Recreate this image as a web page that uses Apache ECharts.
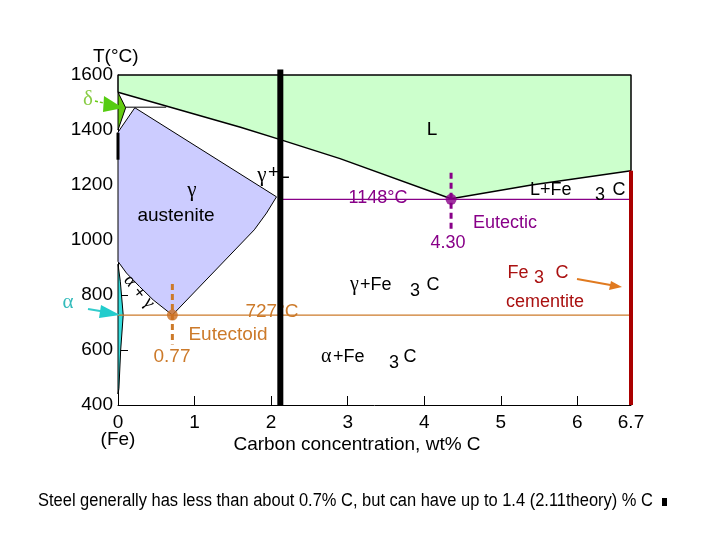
<!DOCTYPE html>
<html>
<head>
<meta charset="utf-8">
<script src="https://cdn.jsdelivr.net/npm/echarts@6/dist/echarts.min.js"></script>
<style>
  html, body { margin: 0; padding: 0; background: #ffffff; }
  #chart { width: 720px; height: 540px; }
</style>
</head>
<body>
<div id="chart"></div>
<script>
// ---- Data (wt% C, temperature °C) ----
const xTickValues = [0, 1, 2, 3, 4, 5, 6, 6.7];
const yTickValues = [400, 600, 800, 1000, 1200, 1400, 1600];

const liquidusLeft = [[0, 1537], [1.6, 1410], [2.12, 1365], [2.9, 1296], [4.35, 1150]];
const liquidusRight = [[4.35, 1150], [5.4, 1200], [6.7, 1252]];
const deltaRegion = [[0, 1537], [0.1, 1481], [0, 1400]];
const austeniteRegion = [[0.22, 1481], [2.07, 1157], [1.94, 1098], [1.78, 1037], [0.71, 727],
                         [0.46, 782], [0.28, 831], [0.11, 880], [0, 922], [0, 1392]];
const alphaRegion = [[0, 912], [0.03, 850], [0.068, 727], [0.035, 600], [0.012, 460], [0, 440]];
const peritecticLine = [[0.1, 1483], [0.63, 1483]];
const eutecticLine = [[2.12, 1148], [6.7, 1148]];
const eutectoidLine = [[0, 727], [6.7, 727]];
const eutecticPoint = [[4.35, 1148]];
const eutectoidPoint = [[0.71, 727]];
const eutecticDash = [[4.35, 1245], [4.35, 1030]];
const eutectoidDash = [[0.71, 840], [0.71, 620]];
const steelLimit = [[2.12, 1620], [2.12, 400]];
const cementiteLine = [[6.7, 1252], [6.7, 400]];
const liquidTop = [[0, 1537], [0, 1600], [6.7, 1600], [6.7, 1252]];
const leftThick = [[0, 1390], [0, 1292]];

const liquidRegion = [[0, 1600], [6.7, 1600]]
  .concat(liquidusRight.slice().reverse())
  .concat(liquidusLeft.slice().reverse().slice(1));

const chart = echarts.init(document.getElementById('chart'), null, { renderer: 'canvas' });

function polySeries(pts, fill, stroke, lw, z) {
  return {
    type: 'custom', z: z, silent: true, clip: false,
    data: pts,
    encode: { x: 0, y: 1 },
    renderItem: function (params, api) {
      if (params.dataIndex !== 0) return null;
      return {
        type: 'polygon',
        shape: { points: pts.map(function (p) { return api.coord(p); }) },
        style: { fill: fill, stroke: stroke, lineWidth: lw }
      };
    }
  };
}
function lineSeries(pts, color, width, z, type) {
  return {
    type: 'line', data: pts, symbol: 'none', silent: true, clip: false, z: z,
    lineStyle: { color: color, width: width, type: type || 'solid' }, animation: false
  };
}

const SANS = "'Liberation Sans', Arial, sans-serif";
const SERIF = "'Liberation Serif', 'Times New Roman', serif";
function txt(x, y, text, size, color, family, align, extra) {
  const o = {
    type: 'text', x: x, y: y, z: 50,
    style: { text: text, fill: color || '#000', font: size + 'px ' + (family || SANS),
             align: align || 'center', verticalAlign: 'middle' }
  };
  return Object.assign(o, extra || {});
}

const graphics = [
  txt(93, 57, 'T(°C)', 19, '#000', SANS, 'left'),
  txt(118, 440, '(Fe)', 19),
  txt(357, 445, 'Carbon concentration, wt% C', 19),
  txt(432, 130, 'L', 19),
  txt(262, 175, 'γ', 21, '#000', SERIF),
  txt(268, 173, '+L', 19, '#000', SANS, 'left'),
  txt(192, 190, 'γ', 21, '#000', SERIF),
  txt(176, 216, 'austenite', 19),
  txt(530, 190, 'L+Fe', 18, '#000', SANS, 'left'),
  txt(600, 195, '3', 18),
  txt(619, 190, 'C', 18),
  txt(350, 285, 'γ', 20, '#000', SERIF, 'left'),
  txt(360, 285, '+Fe', 18, '#000', SANS, 'left'),
  txt(415, 291, '3', 18),
  txt(433, 285, 'C', 18),
  txt(321, 357, 'α', 20, '#000', SERIF, 'left'),
  txt(333, 357, '+Fe', 18, '#000', SANS, 'left'),
  txt(394, 363, '3', 18),
  txt(410, 357, 'C', 18),
  txt(518, 273, 'Fe', 18, '#aa1111'),
  txt(539, 278, '3', 18, '#aa1111'),
  txt(562, 273, 'C', 18, '#aa1111'),
  txt(545, 302, 'cementite', 18, '#aa1111'),
  txt(378, 198, '1148°C', 18, '#880088'),
  txt(505, 223, 'Eutectic', 18, '#880088'),
  txt(448, 243, '4.30', 18, '#880088'),
  txt(272, 312, '727°C', 19, '#cc7a2a'),
  txt(228, 335, 'Eutectoid', 19, '#cc7a2a'),
  txt(172, 357, '0.77', 19, '#cc7a2a'),
  txt(88, 99, 'δ', 21, '#88cc44', SERIF),
  txt(68, 302, 'α', 21, '#33bbbb', SERIF),
  txt(130, 281, 'α', 18, '#000', SERIF, 'center', { rotation: -0.9 }),
  txt(139, 293, '+', 17, '#000', SANS, 'center', { rotation: -0.9 }),
  txt(149, 303, 'γ', 18, '#000', SERIF, 'center', { rotation: -0.9 }),
  // annotation arrows
  { type: 'polyline', z: 40, shape: { points: [[95, 101], [108, 104]] },
    style: { stroke: '#66cc11', lineWidth: 1.5, lineDash: [3, 2] } },
  { type: 'polygon', z: 40, shape: { points: [[104, 96], [123, 108], [103, 112]] },
    style: { fill: '#55cc11' } },
  { type: 'polyline', z: 40, shape: { points: [[88, 309], [106, 312]] },
    style: { stroke: '#33cccc', lineWidth: 2 } },
  { type: 'polygon', z: 40, shape: { points: [[101, 305], [120, 315], [99, 318]] },
    style: { fill: '#22cccc' } },
  { type: 'polyline', z: 40, shape: { points: [[577, 279], [616, 286]] },
    style: { stroke: '#e07a20', lineWidth: 2 } },
  { type: 'polygon', z: 40, shape: { points: [[611, 281], [622, 287], [609, 290]] },
    style: { fill: '#e07a20' } },
  txt(38, 501, 'Steel generally has less than about 0.7% C, but can have up to 1.4 (2.11theory) % C',
      18, '#000', SANS, 'left', { scaleX: 0.915 }),
  { type: 'rect', z: 40, shape: { x: 662, y: 498, width: 5, height: 8 }, style: { fill: '#000' } }
];

const option = {
  animation: false,
  backgroundColor: '#ffffff',
  grid: { left: 118, top: 75, width: 513, height: 330, containLabel: false },
  xAxis: {
    type: 'value', min: 0, max: 6.7,
    axisLine: { show: true, lineStyle: { color: '#000', width: 1 } },
    axisTick: { show: true, inside: true, length: 9, customValues: xTickValues,
                lineStyle: { color: '#000' } },
    axisLabel: { show: true, customValues: xTickValues, color: '#000', fontSize: 19,
                 fontFamily: 'Liberation Sans', margin: 8,
                 formatter: function (v) { return String(v); } },
    splitLine: { show: false }
  },
  yAxis: {
    type: 'value', min: 400, max: 1600, interval: 200,
    axisLine: { show: true, lineStyle: { color: '#000', width: 1 } },
    axisTick: { show: true, inside: true, length: 10, lineStyle: { color: '#000' } },
    axisLabel: { show: true, color: '#000', fontSize: 19, fontFamily: 'Liberation Sans', margin: 5,
                 formatter: function (v) { return String(v); } },
    splitLine: { show: false }
  },
  graphic: graphics,
  series: [
    polySeries(liquidRegion, '#ccffcc', null, 0, 1),
    polySeries(austeniteRegion, '#ccccff', '#000', 1, 1),
    polySeries(deltaRegion, '#66cc11', '#000', 1, 1),
    polySeries(alphaRegion, '#33dddd', '#000', 1, 1),
    lineSeries(liquidusLeft, '#000', 1.5, 3),
    lineSeries(liquidusRight, '#000', 1.5, 3),
    lineSeries(liquidTop, '#000', 1.5, 3),
    lineSeries(peritecticLine, '#000', 1, 3),
    lineSeries(leftThick, '#000', 3, 3),
    lineSeries(eutecticLine, '#880088', 1.2, 3),
    lineSeries(eutectoidLine, '#cc7a2a', 1.2, 3),
    lineSeries(eutecticDash, '#880088', 3, 4, [6, 4]),
    lineSeries(eutectoidDash, '#cc7a2a', 3, 4, [6, 4]),
    lineSeries(cementiteLine, '#aa0000', 4, 4),
    { type: 'scatter', data: eutecticPoint, symbolSize: 11, z: 5, silent: true,
      itemStyle: { color: '#880088' } },
    { type: 'scatter', data: eutectoidPoint, symbolSize: 11, z: 5, silent: true,
      itemStyle: { color: '#cc6f22' } },
    lineSeries(steelLimit, '#000', 6, 60)
  ]
};
chart.setOption(option);
</script>
</body>
</html>
